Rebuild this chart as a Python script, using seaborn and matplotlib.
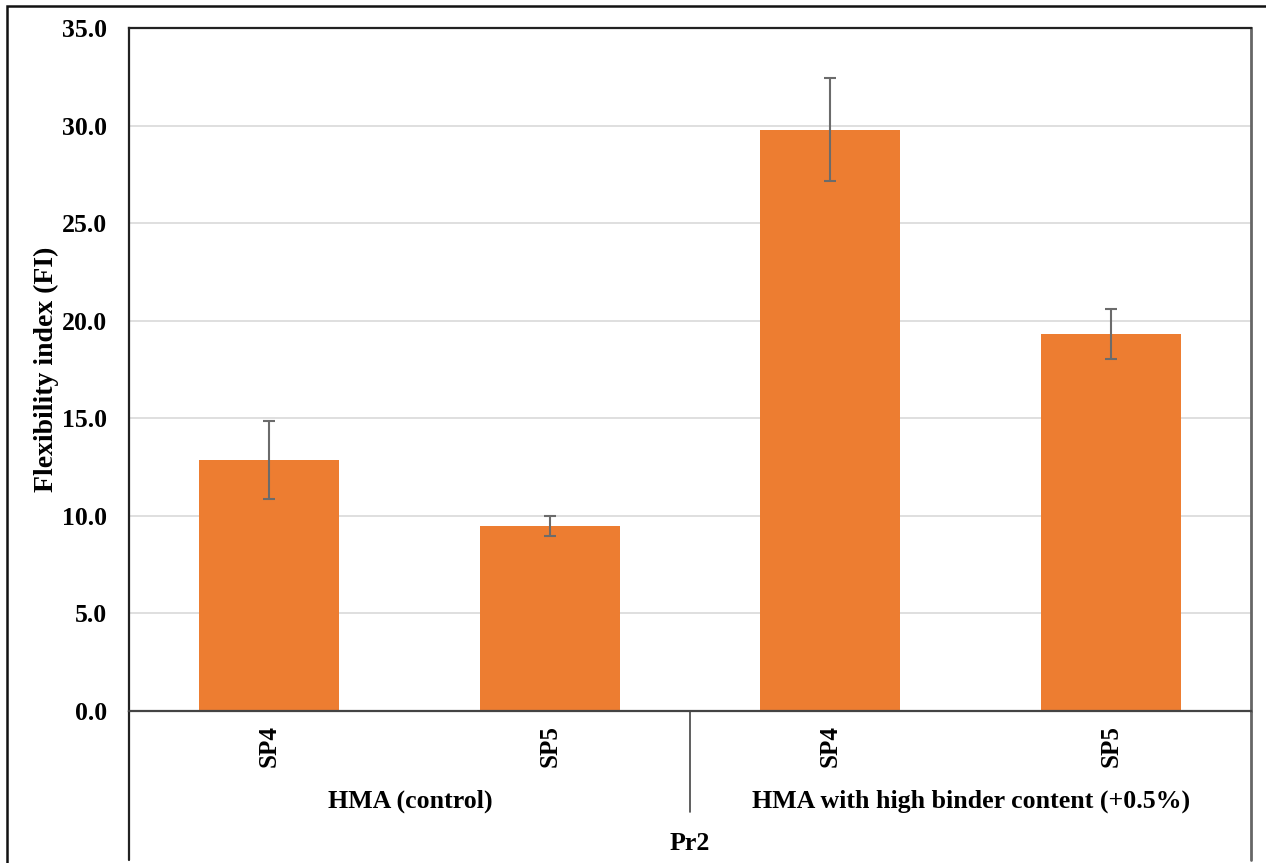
import matplotlib
matplotlib.use("Agg")
import matplotlib.pyplot as plt
import seaborn as sns
import pandas as pd
from matplotlib.patches import Rectangle

# ---- data ----
keys = ["c_SP4", "c_SP5", "h_SP4", "h_SP5"]
tick_labels = ["SP4", "SP5", "SP4", "SP5"]
fi_values = [12.86, 9.48, 29.78, 19.32]
fi_errors = [2.0, 0.5, 2.64, 1.28]
groups = ["HMA (control)", "HMA with high binder content (+0.5%)"]
outer_label = "Pr2"
y_ticks = [0, 5, 10, 15, 20, 25, 30, 35]

sns.set_theme(style="white")
plt.rcParams["font.family"] = ["Liberation Serif", "DejaVu Serif"]
plt.rcParams["font.weight"] = "bold"
plt.rcParams["text.color"] = "black"
plt.rcParams["axes.labelcolor"] = "black"
plt.rcParams["xtick.color"] = "black"
plt.rcParams["ytick.color"] = "black"

W, H = 1266, 863
fig = plt.figure(figsize=(W / 100, H / 100), dpi=100)

def fx(px):
    return px / W

def fy(py):
    return 1 - py / H

x0, x1, y0, y1 = 129, 1251, 711, 28
ax = fig.add_axes([fx(x0), fy(y0), fx(x1) - fx(x0), fy(y1) - fy(y0)])

df = pd.DataFrame({"key": keys, "FI": fi_values})
sns.barplot(data=df, x="key", y="FI", order=keys, color="#ED7D31",
            saturation=1, width=0.5, errorbar=None, ax=ax, zorder=2)
for p in ax.patches:
    p.set_edgecolor("none")
ax.errorbar(range(len(keys)), fi_values, yerr=fi_errors, fmt="none",
            ecolor="#6b6b6b", elinewidth=1.5, capsize=4, capthick=1.5, zorder=3)

ax.set_xlim(-0.5, len(keys) - 0.5)
ax.set_ylim(0, 35)
ax.set_yticks(y_ticks)
ax.set_yticklabels([f"{v:.1f}" for v in y_ticks], fontsize=18.5, fontweight="bold")
ax.yaxis.grid(True, color="#d9d9d9", linewidth=1.2, zorder=0)
ax.set_axisbelow(True)
ax.tick_params(axis="y", length=0, pad=15.5)
ax.set_ylabel("Flexibility index (FI)", fontsize=20, fontweight="bold", labelpad=2.5)
ax.set_xlabel("")
ax.set_xticks(range(len(keys)))
ax.set_xticklabels(tick_labels, rotation=90, fontsize=18, fontweight="bold")
ax.tick_params(axis="x", length=0, pad=10)

for s in ["left", "top"]:
    ax.spines[s].set_color("#222222")
    ax.spines[s].set_linewidth(1.6)
ax.spines["right"].set_color("#666666")
ax.spines["right"].set_linewidth(2)
ax.spines["bottom"].set_color("#444444")
ax.spines["bottom"].set_linewidth(1.6)

# category-axis extensions
ext = (y0 - 860) / (y0 - y1)
ax.axvline(-0.5, ymin=ext, ymax=0, color="#222222", lw=1.6, clip_on=False)
ax.axvline(len(keys) - 0.5, ymin=ext, ymax=0, color="#666666", lw=2, clip_on=False)
div = (y0 - 812) / (y0 - y1)
ax.axvline(1.5, ymin=div, ymax=0, color="#444444", lw=1.2, clip_on=False)

# group labels
fig.text(fx(410), fy(801), groups[0], ha="center", va="center",
         fontsize=18.6, fontweight="bold")
fig.text(fx(971), fy(801), groups[1], ha="center", va="center",
         fontsize=18.6, fontweight="bold")
fig.text(fx(690), fy(843), outer_label, ha="center", va="center",
         fontsize=18.6, fontweight="bold")

# outer chart border
fig.patches.append(Rectangle((fx(7), -0.01), 1.0, fy(6) + 0.01, transform=fig.transFigure,
                             fill=False, edgecolor="#111111", lw=1.8))

fig.savefig("out.png", dpi=100)
